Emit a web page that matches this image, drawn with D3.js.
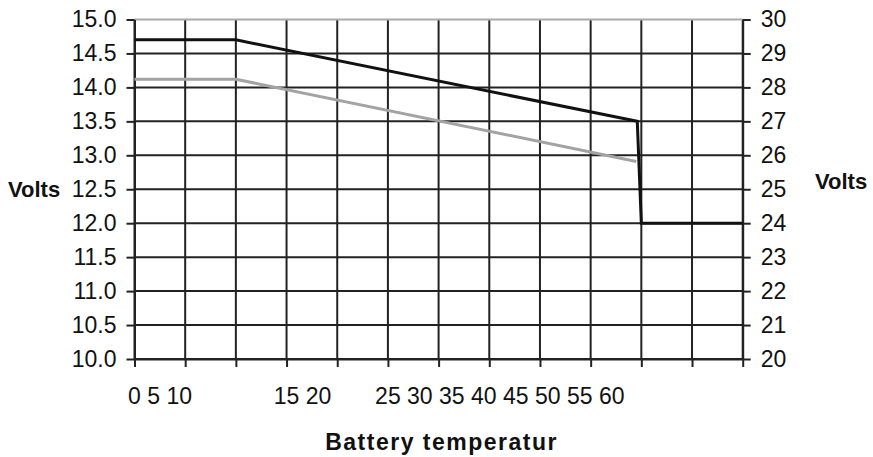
<!DOCTYPE html>
<html lang="en">
<head>
<meta charset="utf-8">
<title>Battery temperature compensation</title>
<script src="https://cdnjs.cloudflare.com/ajax/libs/d3/7.8.5/d3.min.js"></script>
<style>
  body { margin: 0; background: #fff; }
  svg text { font-family: Arial, "Liberation Sans", sans-serif; fill: #111; }
</style>
</head>
<body>
<script>
// grid columns along the temperature axis (12 equal cells)
var gridCols = d3.range(0, 13);

// x tick labels as they sit in the original: groups of text, first number on a grid line
var xLabelGroups = ["0 5 10", "15 20", "25 30 35 40 45 50 55 60"];
var xLabelAt = [0, 3, 5];

// left axis (12 V) and right axis (24 V)
var leftTicks = [10, 10.5, 11, 11.5, 12, 12.5, 13, 13.5, 14, 14.5, 15];
var rightTicks = [20, 21, 22, 23, 24, 25, 26, 27, 28, 29, 30];

// black line (upper curve) and grey line (lower curve), in grid columns / volts
var blackX = [0, 2, 9.92, 10, 12];
var blackV = [14.7, 14.7, 13.5, 12.0, 12.0];
var greyX = [0, 2, 9.9];
var greyV = [14.12, 14.12, 12.91];

var w = 873, h = 457;
var margin = { top: 19.5, right: 130.3, bottom: 98, left: 134.5 };
var iw = w - margin.left - margin.right;
var ih = h - margin.top - margin.bottom;

var svg = d3.select("body").append("svg")
  .attr("width", w)
  .attr("height", h);

var g = svg.append("g")
  .attr("transform", "translate(" + margin.left + "," + margin.top + ")");

var x = d3.scaleLinear().domain([0, 12]).range([0, iw]);
var yL = d3.scaleLinear().domain([10, 15]).range([ih, 0]);
var yR = d3.scaleLinear().domain([20, 30]).range([ih, 0]);

// grid
g.selectAll(".vgrid")
  .data(gridCols)
  .enter().append("line")
  .attr("x1", function(d) { return x(d); })
  .attr("x2", function(d) { return x(d); })
  .attr("y1", 0)
  .attr("y2", ih)
  .attr("stroke", "#222")
  .attr("stroke-width", 2);

g.selectAll(".hgrid")
  .data(leftTicks)
  .enter().append("line")
  .attr("x1", 0)
  .attr("x2", iw)
  .attr("y1", function(d) { return yL(d); })
  .attr("y2", function(d) { return yL(d); })
  .attr("stroke", function(d) { return d === 15 ? "#aaa" : "#222"; })
  .attr("stroke-width", 2);

// axes
var leftAxis = g.append("g")
  .call(d3.axisLeft(yL).tickValues(leftTicks).tickFormat(d3.format(".1f"))
    .tickSizeInner(8).tickSizeOuter(0).tickPadding(10));

var rightAxis = g.append("g")
  .attr("transform", "translate(" + iw + ",0)")
  .call(d3.axisRight(yR).tickValues(rightTicks).tickFormat(d3.format("d"))
    .tickSizeInner(8).tickSizeOuter(0).tickPadding(10));

var bottomAxis = g.append("g")
  .attr("transform", "translate(0," + ih + ")")
  .call(d3.axisBottom(x).tickValues(gridCols).tickFormat("")
    .tickSizeInner(8).tickSizeOuter(0));

[leftAxis, rightAxis, bottomAxis].forEach(function(a) {
  a.select(".domain").attr("stroke", "#222").attr("stroke-width", 2);
  a.selectAll(".tick line").attr("stroke", "#222").attr("stroke-width", 2);
  a.selectAll("text")
    .attr("font-size", "23px")
    .attr("font-family", "Arial, 'Liberation Sans', sans-serif")
    .attr("fill", "#111");
});

// x tick label groups
var labels = g.selectAll(".xlab")
  .data(xLabelGroups)
  .enter().append("text")
  .attr("class", "xlab")
  .attr("font-size", "23px")
  .attr("y", ih + 45)
  .text(function(d) { return d; });

labels.each(function(d, i) {
  var probe = g.append("text").attr("font-size", "23px").text(d.split(" ")[0]);
  var half = probe.node().getComputedTextLength() / 2;
  probe.remove();
  d3.select(this).attr("x", x(xLabelAt[i]) - half);
});

// lines
var line = d3.line()
  .x(function(d) { return x(d[0]); })
  .y(function(d) { return yL(d[1]); });

g.append("path")
  .datum(d3.zip(greyX, greyV))
  .attr("fill", "none")
  .attr("stroke", "#a3a3a3")
  .attr("stroke-width", 3)
  .attr("d", line);

g.append("path")
  .datum(d3.zip(blackX, blackV))
  .attr("fill", "none")
  .attr("stroke", "#111")
  .attr("stroke-width", 3)
  .attr("d", line);

// axis titles
svg.append("text")
  .attr("x", 8)
  .attr("y", 197)
  .attr("font-size", "22px")
  .attr("font-weight", "bold")
  .text("Volts");

svg.append("text")
  .attr("x", 815)
  .attr("y", 189)
  .attr("font-size", "22px")
  .attr("font-weight", "bold")
  .text("Volts");

svg.append("text")
  .attr("x", margin.left + iw / 2 + 3)
  .attr("y", 450)
  .attr("text-anchor", "middle")
  .attr("font-size", "23px")
  .attr("font-weight", "bold")
  .attr("letter-spacing", "1.5px")
  .text("Battery temperatur");
</script>
</body>
</html>
